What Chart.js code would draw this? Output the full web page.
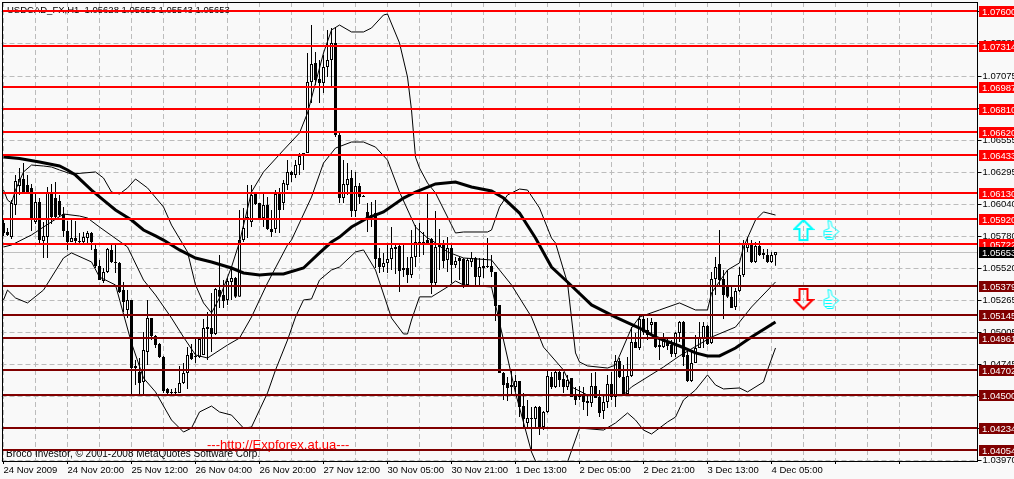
<!DOCTYPE html>
<html>
<head>
<meta charset="utf-8">
<title>USDCAD H1</title>
<script src="https://cdn.jsdelivr.net/npm/chart.js@4"></script>
<style>
  body { margin: 0; background: #f9f9f9; overflow: hidden; }
  canvas { display: block; }
</style>
</head>
<body>
<canvas id="chart" width="1014" height="479"></canvas>
<script>
const candleOpen = [1.05888,1.05815,1.05774,1.06033,1.06187,1.06243,1.06195,1.06171,1.05896,1.06057,1.05742,1.05774,1.06130,1.06089,1.06065,1.05960,1.05823,1.05734,1.05766,1.05742,1.05734,1.05766,1.05807,1.05678,1.05541,1.05419,1.05492,1.05670,1.05573,1.05565,1.05346,1.05185,1.05266,1.04733,1.04684,1.04603,1.04846,1.05120,1.04975,1.04910,1.04805,1.04547,1.04523,1.04515,1.04515,1.04595,1.04676,1.04838,1.04805,1.04805,1.04822,1.05047,1.05039,1.04991,1.05346,1.05306,1.05266,1.05411,1.05443,1.05291,1.05750,1.05936,1.05896,1.06122,1.06049,1.05928,1.06033,1.05839,1.05839,1.06122,1.06049,1.06195,1.06300,1.06275,1.06356,1.06453,1.06453,1.07027,1.07180,1.07051,1.07019,1.07148,1.07204,1.07342,1.06598,1.06089,1.06195,1.06251,1.05985,1.06187,1.06106,1.05977,1.05952,1.05968,1.05605,1.05532,1.05565,1.05597,1.05678,1.05702,1.05524,1.05524,1.05468,1.05613,1.05726,1.05734,1.05750,1.05758,1.05403,1.05694,1.05726,1.05589,1.05686,1.05549,1.05605,1.05597,1.05387,1.05573,1.05605,1.05451,1.05524,1.05541,1.05541,1.05492,1.05226,1.04676,1.04595,1.04579,1.04563,1.04611,1.04409,1.04272,1.04312,1.04304,1.04401,1.04239,1.04361,1.04644,1.04563,1.04684,1.04627,1.04563,1.04635,1.04498,1.04490,1.04490,1.04450,1.04434,1.04571,1.04482,1.04369,1.04442,1.04587,1.04482,1.04773,1.04644,1.04507,1.04652,1.04926,1.04878,1.05112,1.04983,1.05063,1.05088,1.04902,1.04885,1.04934,1.04902,1.04830,1.04999,1.05088,1.04822,1.04611,1.04757,1.04878,1.04958,1.05055,1.04918,1.05435,1.05557,1.05435,1.05387,1.05291,1.05209,1.05338,1.05468,1.05686,1.05726,1.05573,1.05702,1.05646,1.05630,1.05573,1.05628];
const candleHigh = [1.05928,1.05847,1.06073,1.06275,1.06331,1.06372,1.06275,1.06203,1.06138,1.06089,1.05896,1.06179,1.06203,1.06219,1.06114,1.06017,1.05904,1.05912,1.05904,1.05807,1.05815,1.05823,1.05815,1.05710,1.05589,1.05524,1.05686,1.05710,1.05718,1.05573,1.05411,1.05346,1.05266,1.04781,1.04797,1.05007,1.05266,1.05120,1.04983,1.04918,1.04813,1.04555,1.04547,1.04555,1.04733,1.04757,1.04885,1.04910,1.04958,1.04958,1.05112,1.05169,1.05322,1.05362,1.05630,1.05427,1.05443,1.05524,1.05451,1.05993,1.06009,1.06195,1.06195,1.06130,1.06049,1.06122,1.06097,1.05993,1.06154,1.06171,1.06235,1.06396,1.06308,1.06396,1.06453,1.06453,1.07261,1.07487,1.07269,1.07204,1.07245,1.07447,1.07463,1.07471,1.06623,1.06396,1.06372,1.06316,1.06300,1.06211,1.06114,1.06049,1.06057,1.06073,1.05686,1.05646,1.05710,1.05855,1.05726,1.05710,1.05718,1.05613,1.05831,1.05871,1.05888,1.05815,1.06130,1.05766,1.05985,1.05839,1.05750,1.05774,1.05726,1.05613,1.05613,1.05605,1.05605,1.05654,1.05613,1.05605,1.05605,1.05766,1.05630,1.05492,1.05226,1.04684,1.04644,1.04700,1.04660,1.04611,1.04515,1.04458,1.04401,1.04409,1.04409,1.04369,1.04700,1.04684,1.04700,1.04700,1.04684,1.04660,1.04635,1.04563,1.04571,1.04563,1.04498,1.04676,1.04684,1.04539,1.04498,1.04660,1.04684,1.04822,1.04797,1.04740,1.04805,1.05047,1.04999,1.05144,1.05144,1.05120,1.05120,1.05088,1.04958,1.04999,1.04958,1.04942,1.05007,1.05096,1.05096,1.04854,1.04846,1.04983,1.05088,1.05088,1.05063,1.05492,1.05613,1.05831,1.05508,1.05508,1.05371,1.05362,1.05532,1.05750,1.05774,1.05750,1.05734,1.05742,1.05678,1.05678,1.05654,1.05653];
const candleLow = [1.05783,1.05783,1.05758,1.05952,1.06114,1.06130,1.06130,1.05823,1.05880,1.05710,1.05605,1.05605,1.05880,1.05928,1.05936,1.05774,1.05670,1.05734,1.05726,1.05710,1.05726,1.05726,1.05670,1.05524,1.05427,1.05403,1.05484,1.05565,1.05484,1.05322,1.05169,1.05120,1.04507,1.04579,1.04507,1.04491,1.04740,1.04942,1.04878,1.04797,1.04515,1.04507,1.04507,1.04507,1.04515,1.04587,1.04547,1.04781,1.04757,1.04797,1.04822,1.04781,1.04846,1.04983,1.05201,1.05201,1.05226,1.05266,1.05282,1.05291,1.05734,1.05766,1.05855,1.06033,1.05928,1.05855,1.05831,1.05774,1.05807,1.05807,1.05993,1.06154,1.06219,1.06251,1.06275,1.06316,1.06453,1.06857,1.07003,1.06857,1.06938,1.07067,1.06995,1.06582,1.06049,1.06049,1.06114,1.05936,1.05936,1.06041,1.06097,1.05815,1.05855,1.05524,1.05484,1.05492,1.05484,1.05508,1.05476,1.05330,1.05451,1.05403,1.05443,1.05532,1.05613,1.05630,1.05710,1.05314,1.05387,1.05508,1.05524,1.05492,1.05403,1.05524,1.05427,1.05362,1.05371,1.05532,1.05387,1.05371,1.05443,1.05524,1.05451,1.05096,1.04676,1.04458,1.04450,1.04498,1.04523,1.04320,1.04231,1.04231,1.04054,1.04231,1.04175,1.04215,1.04353,1.04547,1.04555,1.04563,1.04515,1.04539,1.04482,1.04417,1.04458,1.04377,1.04328,1.04401,1.04474,1.04320,1.04304,1.04393,1.04458,1.04401,1.04635,1.04498,1.04498,1.04644,1.04878,1.04862,1.04983,1.04942,1.04983,1.04878,1.04781,1.04878,1.04862,1.04805,1.04805,1.04926,1.04733,1.04603,1.04603,1.04757,1.04878,1.04878,1.04902,1.04910,1.05306,1.05387,1.05112,1.05282,1.05201,1.05185,1.05330,1.05451,1.05654,1.05565,1.05565,1.05622,1.05597,1.05565,1.05565,1.05543];
const candleClose = [1.05807,1.05791,1.06049,1.06227,1.06243,1.06138,1.06138,1.05912,1.06057,1.05750,1.05783,1.06130,1.05936,1.05936,1.05952,1.05823,1.05734,1.05766,1.05742,1.05734,1.05774,1.05807,1.05734,1.05541,1.05427,1.05492,1.05678,1.05573,1.05565,1.05330,1.05250,1.05266,1.04716,1.04716,1.04595,1.04862,1.05120,1.04975,1.04902,1.04805,1.04531,1.04515,1.04515,1.04523,1.04595,1.04676,1.04822,1.04789,1.04814,1.04950,1.05039,1.05031,1.04991,1.05354,1.05291,1.05258,1.05419,1.05443,1.05291,1.05750,1.05847,1.05912,1.06114,1.06041,1.05928,1.06033,1.05839,1.05815,1.06122,1.05993,1.06211,1.06300,1.06275,1.06356,1.06429,1.06437,1.07027,1.07172,1.07043,1.07019,1.07148,1.07204,1.07342,1.06598,1.06089,1.06203,1.06243,1.05985,1.06187,1.06097,1.06097,1.05928,1.05936,1.05597,1.05532,1.05565,1.05597,1.05686,1.05694,1.05500,1.05508,1.05468,1.05613,1.05734,1.05734,1.05726,1.05726,1.05403,1.05694,1.05710,1.05581,1.05686,1.05549,1.05581,1.05581,1.05387,1.05589,1.05605,1.05451,1.05532,1.05541,1.05532,1.05492,1.05218,1.04676,1.04579,1.04555,1.04563,1.04611,1.04401,1.04304,1.04312,1.04304,1.04401,1.04239,1.04361,1.04652,1.04563,1.04684,1.04619,1.04563,1.04619,1.04482,1.04458,1.04482,1.04442,1.04434,1.04571,1.04474,1.04353,1.04442,1.04587,1.04482,1.04773,1.04644,1.04507,1.04652,1.04926,1.04878,1.05112,1.05007,1.05023,1.05088,1.04885,1.04885,1.04934,1.04894,1.04830,1.04999,1.05088,1.04805,1.04611,1.04757,1.04878,1.04958,1.05055,1.04910,1.05435,1.05532,1.05427,1.05306,1.05291,1.05201,1.05338,1.05468,1.05726,1.05718,1.05573,1.05702,1.05630,1.05630,1.05573,1.05630,1.05653];

const maBars = [0,4,9,14,16,18,22,25,28,32,35,38,40,44,48,52,57,60,64,67,70,75,79,82,84,87,91,95,100,103,108,113,117,122,125,129,133,137,141,147,153,159,163,169,173,176,179,183,187,193];
const maValues = [1.06420,1.06408,1.06380,1.06348,1.06316,1.06275,1.06154,1.06073,1.05993,1.05912,1.05831,1.05783,1.05750,1.05670,1.05605,1.05573,1.05524,1.05484,1.05468,1.05476,1.05476,1.05524,1.05646,1.05734,1.05774,1.05855,1.05928,1.05977,1.06089,1.06138,1.06203,1.06219,1.06179,1.06146,1.06089,1.05968,1.05766,1.05532,1.05411,1.05226,1.05128,1.05039,1.04966,1.04894,1.04838,1.04814,1.04814,1.04878,1.04966,1.05088];

// thin bands
const topBars = [0,1,2,3,5,7,10,12,14,17,23,25,27,29,31,33,36,40,42,46,48,50,52,54,57,59,62,65,70,74,76,80,82,84,87,90,92,95,96,99,101,102,103,104,106,108,113,115,121,122,124,126,129,131,134,137,138,141,143,144,146,151,153,157,159,164,169,173,176,177,181,184,185,188,190,193];
const topValues = [1.06154,1.06073,1.06049,1.06154,1.06300,1.06356,1.06348,1.06340,1.06316,1.06283,1.06300,1.06251,1.06138,1.06122,1.06171,1.06243,1.06171,1.06017,1.05871,1.05654,1.05387,1.05242,1.05161,1.05282,1.05532,1.05734,1.06138,1.06300,1.06477,1.06615,1.06776,1.07261,1.07447,1.07487,1.07431,1.07431,1.07463,1.07568,1.07576,1.07342,1.07067,1.06800,1.06420,1.06332,1.06211,1.06130,1.05807,1.05815,1.05815,1.05831,1.06017,1.06114,1.06162,1.06154,1.06009,1.05766,1.05726,1.05403,1.04838,1.04765,1.04733,1.04716,1.04740,1.05039,1.05128,1.05185,1.05242,1.05185,1.05185,1.05322,1.05508,1.05565,1.05694,1.05912,1.05977,1.05952];
const midBars = [0,2,7,10,15,19,21,24,31,35,38,42,45,48,51,56,59,62,66,71,72,77,80,83,87,90,93,96,99,103,106,107,111,115,122,127,132,135,140,142,146,155,157,165,169,177,183,187,193];
const midValues = [1.05694,1.05710,1.05791,1.05855,1.05960,1.05944,1.05928,1.05855,1.05694,1.05427,1.05306,1.05120,1.04966,1.04822,1.04797,1.04902,1.04958,1.05128,1.05403,1.05710,1.05750,1.06097,1.06372,1.06493,1.06542,1.06542,1.06501,1.06396,1.06138,1.05855,1.05766,1.05750,1.05654,1.05605,1.05589,1.05387,1.05128,1.04885,1.04700,1.04563,1.04498,1.04498,1.04563,1.04724,1.04814,1.04966,1.05047,1.05209,1.05411];
const lowBars = [0,1,3,6,10,15,17,22,24,28,32,35,38,42,45,47,49,52,54,57,60,62,66,68,71,73,75,77,79,82,84,88,90,93,97,100,101,102,104,107,111,113,115,122,125,128,132,133,137,141,144,150,153,156,158,160,162,166,168,170,173,176,178,180,184,186,190,191,193];
const lowValues = [1.05266,1.05346,1.05282,1.05242,1.05346,1.05605,1.05646,1.05573,1.05451,1.05387,1.04918,1.04635,1.04523,1.04296,1.04199,1.04231,1.04361,1.04409,1.04361,1.04336,1.04231,1.04239,1.04515,1.04700,1.04942,1.05128,1.05266,1.05274,1.05427,1.05508,1.05532,1.05654,1.05670,1.05508,1.05120,1.04991,1.04991,1.05104,1.05291,1.05291,1.05371,1.05419,1.05387,1.05371,1.04942,1.04515,1.04038,1.03965,1.03828,1.03957,1.04231,1.04215,1.04272,1.04353,1.04296,1.04215,1.04183,1.04280,1.04320,1.04458,1.04539,1.04660,1.04579,1.04547,1.04555,1.04523,1.04603,1.04700,1.04878];

const levelPrices = [1.07600,1.07314,1.06987,1.06810,1.06620,1.06433,1.06130,1.05920,1.05722,1.05379,1.05145,1.04961,1.04702,1.04500,1.04234,1.04054];
const currentPrice = 1.05653;
const priceTicks = [1.07595,1.07335,1.07075,1.06815,1.06555,1.06295,1.06040,1.05780,1.05520,1.05265,1.05005,1.04745,1.04485,1.04230,1.03970];
const timeLabels = ['24 Nov 2009','24 Nov 20:00','25 Nov 12:00','26 Nov 04:00','26 Nov 20:00','27 Nov 12:00','30 Nov 05:00','30 Nov 21:00','1 Dec 13:00','2 Dec 05:00','2 Dec 21:00','3 Dec 13:00','4 Dec 05:00'];
const priceMin = 1.03965;
const priceMax = 1.07673;
const barSlots = 244;

const arrowBar = 200;
const thumbBar = 207;
const upMarkPrice = 1.05831;
const downMarkPrice = 1.05274;

const slots = [];
for (let i = 0; i < barSlots; i++) slots.push(i);

function pairs(bars, values) {
  return bars.map((b, i) => ({ x: b, y: values[i] }));
}

function icon(w, h, draw) {
  const c = document.createElement('canvas');
  c.width = w;
  c.height = h;
  draw(c.getContext('2d'));
  return c;
}

function arrowIcon(color, up) {
  return icon(22, 24, ctx => {
    if (!up) { ctx.translate(0, 24); ctx.scale(1, -1); }
    ctx.strokeStyle = color;
    ctx.lineWidth = 2;
    ctx.beginPath();
    ctx.moveTo(11, 2);
    ctx.lineTo(20, 11);
    ctx.lineTo(15, 11);
    ctx.lineTo(15, 22);
    ctx.lineTo(7, 22);
    ctx.lineTo(7, 11);
    ctx.lineTo(2, 11);
    ctx.closePath();
    ctx.stroke();
  });
}

function thumbIcon() {
  return icon(18, 22, ctx => {
    ctx.strokeStyle = '#00ffff';
    ctx.lineWidth = 1;
    ctx.beginPath();
    ctx.moveTo(5.5, 1.5);
    ctx.lineTo(8.5, 2.5);
    ctx.lineTo(9.5, 7.5);
    ctx.lineTo(16.5, 12.5);
    ctx.lineTo(11.5, 16.5);
    ctx.lineTo(10.5, 20.5);
    ctx.lineTo(4.5, 20.5);
    ctx.lineTo(1.5, 17.5);
    ctx.lineTo(1.5, 11.5);
    ctx.lineTo(6.5, 9.5);
    ctx.closePath();
    for (const y of [12.5, 15.5, 18.5]) {
      ctx.moveTo(2.5, y);
      ctx.lineTo(9.5, y);
    }
    ctx.stroke();
  });
}

// stop the layout reserving room for labels that overhang the plot
function noOverhang(scale) {
  scale.paddingLeft = 0;
  scale.paddingRight = 0;
  scale.paddingTop = 0;
  scale.paddingBottom = 0;
}

// price lines, their boxes and the texts on the chart
const overlay = {
  id: 'overlay',
  beforeDatasetsDraw(chart) {
    const ctx = chart.ctx, a = chart.chartArea, y = chart.scales.y;
    ctx.save();
    ctx.fillStyle = '#c0c0c0';
    ctx.fillRect(a.left, Math.round(y.getPixelForValue(currentPrice)), a.right - a.left, 1);
    ctx.restore();
  },
  afterDatasetsDraw(chart) {
    const ctx = chart.ctx, a = chart.chartArea, y = chart.scales.y;
    const left = Math.ceil(a.left), right = Math.floor(a.right), top = Math.floor(a.top), bottom = Math.floor(a.bottom);
    ctx.save();
    ctx.textBaseline = 'alphabetic';
    ctx.font = '9.5px "Liberation Sans"';
    ctx.fillStyle = '#000';
    ctx.fillText('USDCAD_FX,H1  1.05628 1.05653 1.05543 1.05653', 7, 13);
    ctx.font = '10px "Liberation Sans"';
    ctx.fillText('Broco Investor, \u00a9 2001-2008 MetaQuotes Software Corp.', 6, 457);
    ctx.font = '13px "Liberation Sans"';
    ctx.fillStyle = '#ff0000';
    ctx.fillText('---http://Expforex.at.ua---', 207, 449);

    ctx.strokeStyle = '#000';
    ctx.lineWidth = 1;
    ctx.strokeRect(left + 0.5, top + 0.5, right - left, bottom - top);

    ctx.font = '9.5px "Liberation Sans"';
    levelPrices.forEach(p => {
      const py = Math.round(y.getPixelForValue(p));
      const col = p > currentPrice ? '#ff0000' : '#800000';
      ctx.fillStyle = col;
      ctx.fillRect(left + 1, py - 1, right - left - 1, 2);
      ctx.fillRect(right + 2, py - 5, 1014 - right, 11);
      ctx.fillStyle = '#fff';
      ctx.fillText(p.toFixed(5), right + 5, py + 4);
    });
    const cy = Math.round(y.getPixelForValue(currentPrice));
    ctx.fillStyle = '#000';
    ctx.fillRect(right + 2, cy - 5, 1014 - right, 11);
    ctx.fillStyle = '#fff';
    ctx.fillText(currentPrice.toFixed(5), right + 5, cy + 4);
    ctx.restore();
  }
};

new Chart(document.getElementById('chart'), {
  type: 'bar',
  data: {
    labels: slots,
    datasets: [
      { type: 'line', data: [{ x: arrowBar, y: upMarkPrice }], showLine: false, pointStyle: arrowIcon('#00ffff', true), pointRadius: 11, order: 0 },
      { type: 'line', data: [{ x: arrowBar, y: downMarkPrice }], showLine: false, pointStyle: arrowIcon('#ff0000', false), pointRadius: 11, order: 0 },
      { type: 'line', data: [{ x: thumbBar, y: upMarkPrice }, { x: thumbBar, y: downMarkPrice }], showLine: false, pointStyle: thumbIcon(), pointRadius: 11, order: 0 },
      { type: 'line', data: pairs(maBars, maValues), borderColor: '#000', borderWidth: 3, pointRadius: 0, tension: 0, order: 1 },
      { type: 'line', data: pairs(topBars, topValues), borderColor: '#000', borderWidth: 1, pointRadius: 0, tension: 0, order: 1 },
      { type: 'line', data: pairs(midBars, midValues), borderColor: '#000', borderWidth: 1, pointRadius: 0, tension: 0, order: 1 },
      { type: 'line', data: pairs(lowBars, lowValues), borderColor: '#000', borderWidth: 1, pointRadius: 0, tension: 0, order: 1 },
      {
        data: candleOpen.map((o, i) => [o, candleClose[i]]),
        backgroundColor: candleOpen.map((o, i) => candleClose[i] >= o ? '#ffffff' : '#000000'),
        borderColor: '#000',
        borderWidth: 1,
        borderSkipped: false,
        inflateAmount: 0,
        barThickness: 3,
        grouped: false,
        order: 2
      },
      {
        data: candleLow.map((l, i) => [l, candleHigh[i]]),
        backgroundColor: '#000',
        borderWidth: 0,
        inflateAmount: 0,
        barThickness: 1,
        grouped: false,
        order: 3
      }
    ]
  },
  options: {
    responsive: false,
    animation: false,
    devicePixelRatio: 1,
    layout: { autoPadding: false, padding: { left: 1.5, top: 2, right: 0, bottom: 0 } },
    plugins: { legend: { display: false }, tooltip: { enabled: false } },
    scales: {
      x: {
        type: 'category',
        offset: true,
        afterBuildTicks(scale) {
          scale.ticks = scale.ticks.filter(t => t.value % 8 === 0 && t.value < 240);
        },
        afterFit(scale) { scale.height = 18; noOverhang(scale); },
        border: { display: false, dash: [5, 3] },
        grid: {
          offset: false,
          color: '#bcbcbc',
          tickColor: ctx => (ctx.tick && ctx.tick.value % 16 === 0) ? '#000' : 'rgba(0,0,0,0)',
          tickLength: 3
        },
        ticks: {
          autoSkip: false,
          maxRotation: 0,
          align: 'start',
          padding: 1,
          color: '#000',
          font: { family: 'Liberation Sans', size: 9.5 },
          callback: v => (v % 16 === 0 && v / 16 < timeLabels.length) ? timeLabels[v / 16] : ''
        }
      },
      y: {
        position: 'right',
        min: priceMin,
        max: priceMax,
        afterBuildTicks(scale) {
          scale.ticks = priceTicks.map(v => ({ value: v }));
        },
        afterFit(scale) { scale.width = 36.5; noOverhang(scale); },
        border: { display: false, dash: [5, 3] },
        grid: { color: '#bcbcbc', tickColor: '#000', tickLength: 4 },
        ticks: {
          padding: 1,
          color: '#000',
          font: { family: 'Liberation Sans', size: 9.5 },
          callback: v => v.toFixed(5)
        }
      }
    }
  },
  plugins: [overlay]
});
</script>
</body>
</html>
